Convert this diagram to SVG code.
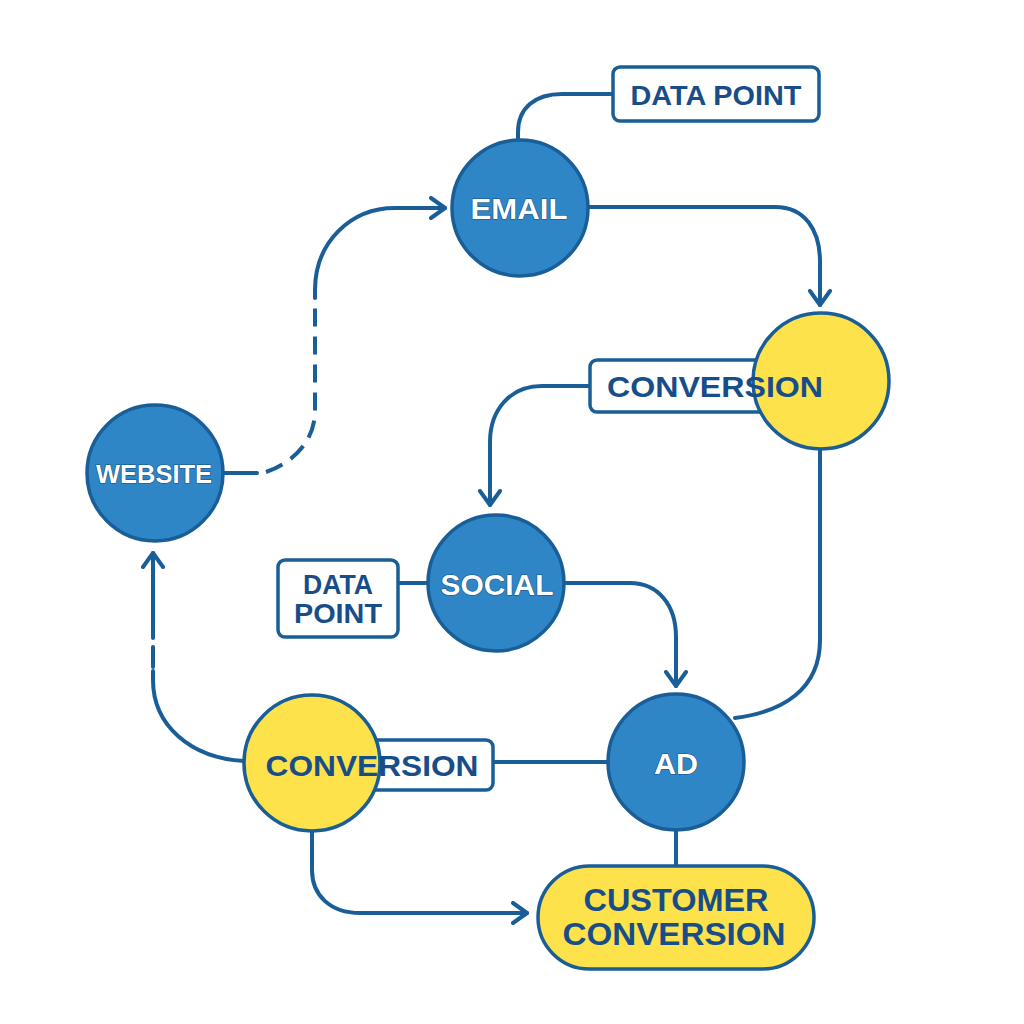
<svg xmlns="http://www.w3.org/2000/svg" width="1024" height="1024" viewBox="0 0 1024 1024">
<style>
.bg{fill:#ffffff}
.blue{fill:#2f86c6;stroke:#1a5e98;stroke-width:3.5}
.yellow{fill:#fde24b;stroke:#1a5e98;stroke-width:3.5}
.box{fill:#ffffff;stroke:#1a5e98;stroke-width:3.5}
.conn{fill:none;stroke:#1a5e98;stroke-width:4;stroke-linecap:round;stroke-linejoin:round}
.dash{stroke-dasharray:18 10;stroke-linecap:butt}
.wt{font-family:"Liberation Sans","Arial",sans-serif;font-weight:bold;fill:#ffffff;stroke:#174f85;stroke-width:1.2;paint-order:stroke;text-anchor:middle;dominant-baseline:central}
.dt{font-family:"Liberation Sans","Arial",sans-serif;font-weight:bold;fill:#174d88;text-anchor:middle;dominant-baseline:central}
</style>
<defs>
<marker id="arr" viewBox="0 0 24 24" refX="19" refY="12" markerWidth="24" markerHeight="24" markerUnits="userSpaceOnUse" orient="auto">
<path d="M5,2 L19,12 L5,22" fill="none" stroke="#1a5e98" stroke-width="4" stroke-linecap="round" stroke-linejoin="round"/>
</marker>
</defs>
<rect class="bg" x="0" y="0" width="1024" height="1024"/>
<g id="connectors">
<path class="conn" d="M223,473 L257,473"/>
<path class="conn dash" d="M266,472 C295,462 314,440 315,413 L315,298"/>
<path class="conn" d="M315,298 L315,290 C315,243 350,208 395,208 L445,208" marker-end="url(#arr)"/>
<path class="conn" d="M588,207 L775,207 C805,207 820,230 820,262 L820,305" marker-end="url(#arr)"/>
<path class="conn" d="M518,140 L518,132 C518,108 535,94 562,94 L613,94"/>
<path class="conn" d="M590,386 L542,386 C510,386 490,410 490,442 L490,505" marker-end="url(#arr)"/>
<path class="conn" d="M564,583 L630,583 C658,583 676,605 676,637 L676,686" marker-end="url(#arr)"/>
<path class="conn" d="M398,583 L428,583"/>
<path class="conn" d="M820,449 L820,640 C820,690 782,712 735,718"/>
<path class="conn" d="M493,762 L608,762"/>
<path class="conn" d="M676,830 L676,866"/>
<path class="conn" d="M312,831 L312,870 C312,895 330,913 360,913 L527,913" marker-end="url(#arr)"/>
<path class="conn" d="M244,761 C190,758 153,725 153,680 L153,671"/>
<path class="conn" d="M153,667 L153,647"/>
<path class="conn" d="M153,638 L153,553" marker-end="url(#arr)"/>
</g>
<g id="email-datapoint">
<rect class="box" x="613" y="67" width="206" height="54" rx="7"/>
<text class="dt" x="716" y="95" font-size="28" textLength="171" lengthAdjust="spacingAndGlyphs">DATA POINT</text>
</g>
<g id="email">
<circle class="blue" cx="520" cy="208" r="68"/>
<text class="wt" x="519" y="209" font-size="29" textLength="97" lengthAdjust="spacingAndGlyphs">EMAIL</text>
</g>
<g id="conversion-top">
<rect class="box" x="590" y="360" width="180" height="52" rx="7"/>
<circle class="yellow" cx="821" cy="381" r="68"/>
<text class="dt" x="715" y="386" font-size="30" textLength="216" lengthAdjust="spacingAndGlyphs">CONVERSION</text>
</g>
<g id="website">
<circle class="blue" cx="155" cy="473" r="68"/>
<text class="wt" x="154" y="474" font-size="26" textLength="116" lengthAdjust="spacingAndGlyphs">WEBSITE</text>
</g>
<g id="social-datapoint">
<rect class="box" x="278" y="560" width="120" height="77" rx="7"/>
<text class="dt" x="338" y="585" font-size="27" textLength="70" lengthAdjust="spacingAndGlyphs">DATA</text>
<text class="dt" x="338" y="614" font-size="27" textLength="88" lengthAdjust="spacingAndGlyphs">POINT</text>
</g>
<g id="social">
<circle class="blue" cx="496" cy="583" r="68"/>
<text class="wt" x="497" y="584" font-size="30" textLength="113" lengthAdjust="spacingAndGlyphs">SOCIAL</text>
</g>
<g id="ad">
<circle class="blue" cx="676" cy="762" r="68"/>
<text class="wt" x="676" y="763" font-size="30" textLength="44" lengthAdjust="spacingAndGlyphs">AD</text>
</g>
<g id="conversion-bottom">
<rect class="box" x="360" y="740" width="133" height="50" rx="7"/>
<circle class="yellow" cx="312" cy="763" r="68"/>
<text class="dt" x="372" y="765" font-size="30" textLength="213" lengthAdjust="spacingAndGlyphs">CONVERSION</text>
</g>
<g id="customer-conversion">
<rect class="yellow" x="538" y="866" width="276" height="103" rx="51.5"/>
<text class="dt" x="676" y="900" font-size="32" textLength="185" lengthAdjust="spacingAndGlyphs">CUSTOMER</text>
<text class="dt" x="674" y="934" font-size="32" textLength="223" lengthAdjust="spacingAndGlyphs">CONVERSION</text>
</g>
</svg>
